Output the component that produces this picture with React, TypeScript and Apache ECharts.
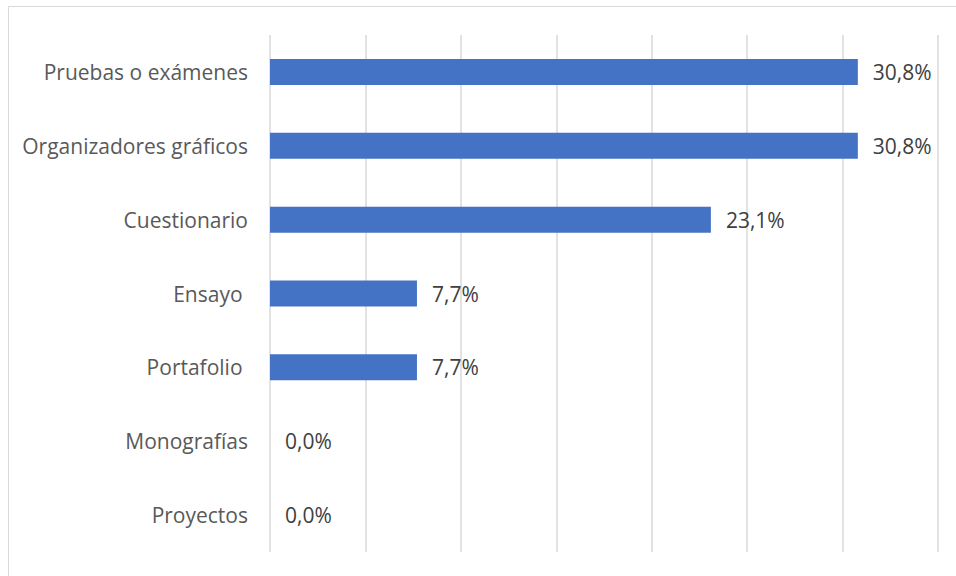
import React, { useEffect, useRef } from "react";
import * as echarts from "echarts";

const categories = [
  "Pruebas o exámenes",
  "Organizadores gráficos",
  "Cuestionario",
  "Ensayo ",
  "Portafolio ",
  "Monografías",
  "Proyectos",
];
const values = [30.8, 30.8, 23.1, 7.7, 7.7, 0.0, 0.0];
const axisMax = 35;
const axisInterval = 5;

export default function App() {
  const ref = useRef<HTMLDivElement>(null);
  useEffect(() => {
    if (!ref.current) return;
    const chart = echarts.init(ref.current, null, { renderer: "svg" });
    chart.setOption({
      animation: false,
      backgroundColor: "#ffffff",
      graphic: [
        {
          type: "rect",
          shape: { x: 8.5, y: 6.5, width: 960, height: 600 },
          style: { fill: "none", stroke: "#d9d9d9", lineWidth: 1 },
          silent: true,
        },
      ],
      grid: { left: 270, right: 18, top: 35, bottom: 24, containLabel: false },
      xAxis: {
        type: "value",
        min: 0,
        max: axisMax,
        interval: axisInterval,
        axisLabel: { show: false },
        axisLine: { show: false },
        axisTick: { show: false },
        splitLine: { show: true, lineStyle: { color: "#d9d9d9", width: 1.5 } },
      },
      yAxis: {
        type: "category",
        data: categories,
        inverse: true,
        axisLine: { show: false },
        axisTick: { show: false },
        axisLabel: {
          color: "#595959",
          fontFamily: "Open Sans",
          fontSize: 21,
          margin: 22,
        },
      },
      series: [
        {
          type: "bar",
          data: values,
          barWidth: 26,
          itemStyle: { color: "#4472c4" },
          label: {
            show: true,
            position: "right",
            distance: 15,
            color: "#404040",
            fontFamily: "Open Sans",
            fontSize: 21,
            formatter: (p: any) => p.value.toFixed(1).replace(".", ",") + "%",
          },
        },
      ],
    });
    return () => chart.dispose();
  }, []);
  return <div ref={ref} style={{ width: 956, height: 576, position: "absolute", left: 0, top: 0 }} />;
}
